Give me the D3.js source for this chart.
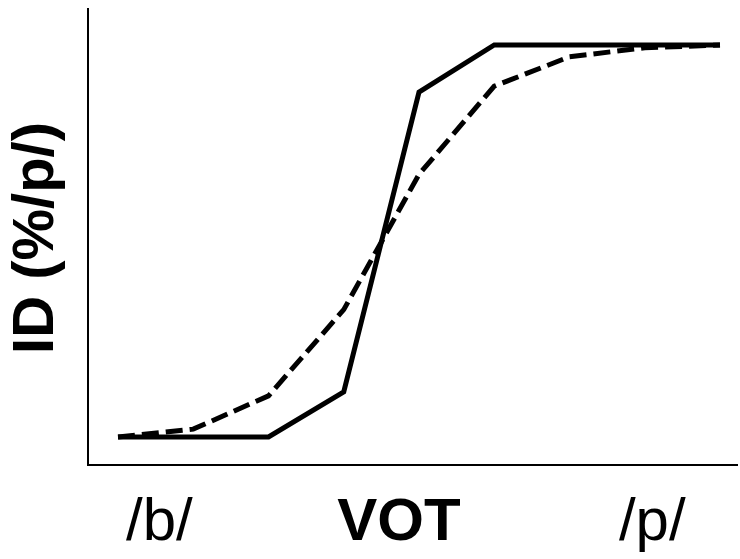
<!DOCTYPE html>
<html>
<head>
<meta charset="utf-8">
<script src="https://cdn.jsdelivr.net/npm/d3@7"></script>
<style>
  body { margin: 0; background: white; }
  text { font-family: "Liberation Sans", Arial, sans-serif; fill: black; }
</style>
</head>
<body>
<div id="chart"></div>
<script>
// Continuum steps along VOT (9 steps)
var steps = [1, 2, 3, 4, 5, 6, 7, 8, 9];
// Identification (% /p/)
var categorical = [0, 0, 0, 11.5, 88, 100, 100, 100, 100];
var gradient = [0, 2, 10.5, 32.5, 67, 89.5, 97, 99.3, 100];
// Endpoint labels
var endLabels = [{ label: "/b/", step: 1.55 }, { label: "/p/", step: 8.1 }];

var width = 740;
var height = 559;

var svg = d3.select("#chart").append("svg")
    .attr("width", width)
    .attr("height", height);

// Scales
var x = d3.scaleLinear().domain([1, 9]).range([118, 720]);
var y = d3.scaleLinear().domain([0, 100]).range([437, 45]);

var axisX = 88, axisBottom = 465, axisTop = 8, axisRight = 738;

// Axes (plain lines, no ticks)
svg.append("line")
    .attr("x1", axisX).attr("x2", axisX)
    .attr("y1", axisTop).attr("y2", axisBottom)
    .attr("stroke", "black").attr("stroke-width", 2);

svg.append("line")
    .attr("x1", axisX - 1).attr("x2", axisRight)
    .attr("y1", axisBottom).attr("y2", axisBottom)
    .attr("stroke", "black").attr("stroke-width", 2);

var line = d3.line()
    .x((d, i) => x(steps[i]))
    .y(d => y(d));

// Gradient response (dashed)
svg.append("path")
    .datum(gradient)
    .attr("d", line)
    .attr("fill", "none")
    .attr("stroke", "black")
    .attr("stroke-width", 5)
    .attr("stroke-dasharray", "17,7");

// Categorical response (solid)
svg.append("path")
    .datum(categorical)
    .attr("d", line)
    .attr("fill", "none")
    .attr("stroke", "black")
    .attr("stroke-width", 5)
    .attr("stroke-linejoin", "miter");

// Endpoint labels
svg.selectAll(".end-label")
    .data(endLabels)
    .enter().append("text")
    .attr("class", "end-label")
    .attr("x", d => x(d.step))
    .attr("y", 540)
    .attr("text-anchor", "middle")
    .style("font-size", "60px")
    .text(d => d.label);

// X axis title
svg.append("text")
    .attr("x", 399)
    .attr("y", 540)
    .attr("text-anchor", "middle")
    .style("font-size", "60px")
    .style("font-weight", "700")
    .text("VOT");

// Y axis title
svg.append("text")
    .attr("transform", "translate(53,238) rotate(-90)")
    .attr("text-anchor", "middle")
    .style("font-size", "58px")
    .style("font-weight", "700")
    .text("ID (%/p/)");
</script>
</body>
</html>
